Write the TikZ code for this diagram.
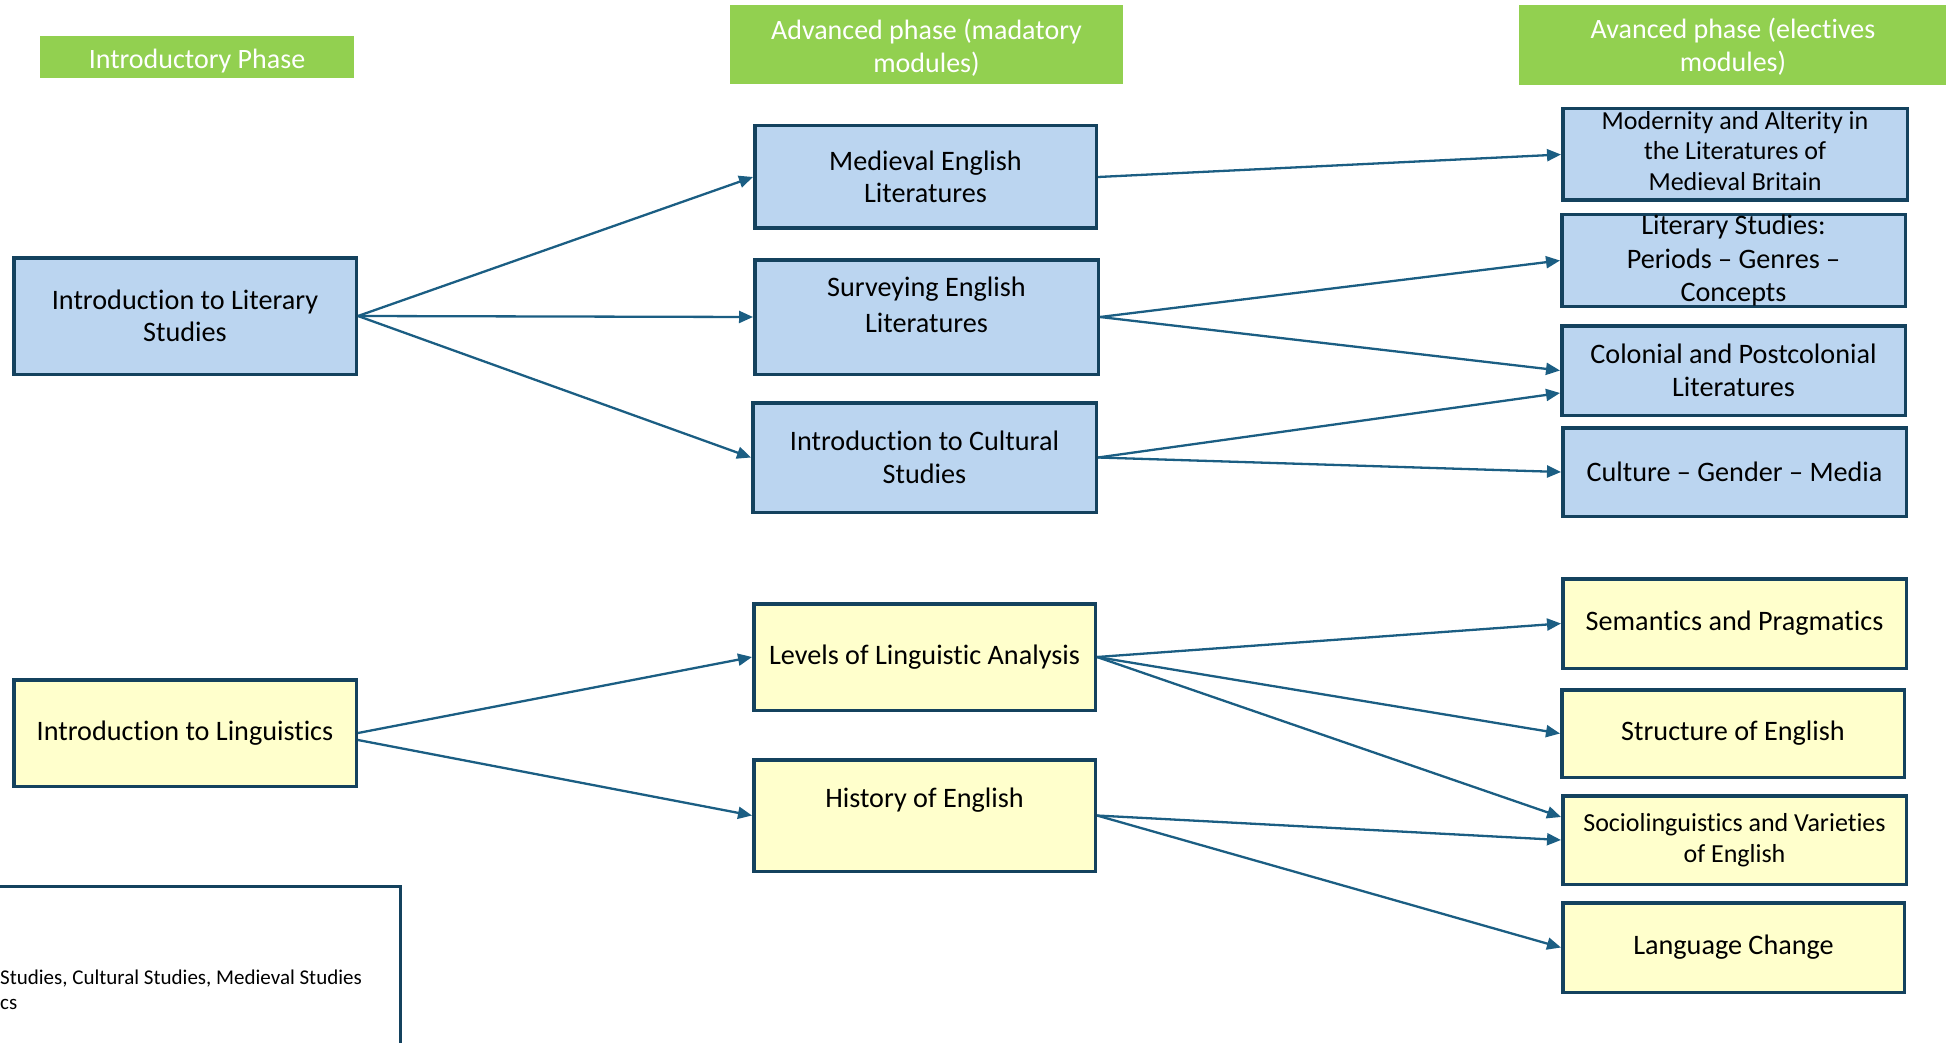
\documentclass[tikz,border=0pt]{standalone}
\usepackage{fontspec}
\setmainfont{Carlito}[Ligatures=NoCommon]
\usetikzlibrary{arrows.meta,calc}
\definecolor{hdrgreen}{RGB}{146,208,80}
\definecolor{boxblue}{RGB}{187,213,240}
\definecolor{boxyellow}{RGB}{255,255,204}
\definecolor{edgec}{RGB}{20,66,94}
\definecolor{arrowc}{RGB}{27,94,131}
\newcommand{\mainsize}{\fontsize{28.2}{32.5}\selectfont}
\newcommand{\upby}[2]{\raisebox{#1}[\height][\depth]{\begin{tabular}{@{}c@{}}#2\end{tabular}}}
\tikzset{
  modbox/.style={draw=edgec, line width=3.5pt, align=center, inner sep=0pt, font=\mainsize, text=black},
  bluebox/.style={modbox, fill=boxblue},
  yellowbox/.style={modbox, fill=boxyellow},
  hdr/.style={fill=hdrgreen, text=white, align=center, inner sep=0pt, font=\fontsize{28}{33}\selectfont},
  link/.style={draw=arrowc, line width=2.3pt, -{Triangle[length=14pt,width=12pt]}},
}
\begin{document}
\begin{tikzpicture}[x=1pt,y=-1pt]
\useasboundingbox (0,0) rectangle (1946,1043);
\clip (0,0) rectangle (1946,1043);

% headers
\node[hdr, minimum width=314pt, minimum height=42pt] (h1) at (197,57) {\raisebox{-4.5pt}[\height][\depth]{Introductory Phase}};
\node[hdr, minimum width=393pt, minimum height=79pt] (h2) at (926.5,44.5) {\upby{-4.5pt}{Advanced phase (madatory\\modules)}};
\node[hdr, minimum width=428pt, minimum height=80pt] (h3) at (1733,45) {\upby{-3.5pt}{Avanced phase (electives\\modules)}};

% literature / culture strand
\node[bluebox, minimum width=342.5pt, minimum height=116.5pt] (lit) at (185,316) {Introduction to Literary\\Studies};
\node[bluebox, minimum width=341.5pt, minimum height=102.5pt] (med) at (925.5,177) {Medieval English\\Literatures};
\node[bluebox, minimum width=343.5pt, minimum height=114.5pt, font=\fontsize{28.2}{36}\selectfont] (surv) at (926.5,317) {\upby{9.5pt}{Surveying English\\Literatures}};
\node[bluebox, minimum width=343.5pt, minimum height=109.5pt] (cult) at (924.5,457.5) {Introduction to Cultural\\Studies};
\node[bluebox, minimum width=344.5pt, minimum height=91.5pt, font=\fontsize{26}{30.5}\selectfont] (mod) at (1735,154.5) {\upby{1pt}{Modernity and Alterity in\\the Literatures of\\Medieval Britain}};
\node[bluebox, minimum width=343.5pt, minimum height=91.5pt, font=\fontsize{28.2}{33.5}\selectfont] (lits) at (1733.5,260.5) {Literary Studies:\\Periods – Genres –\\Concepts};
\node[bluebox, minimum width=343.5pt, minimum height=89.5pt] (col) at (1733.5,370.5) {Colonial and Postcolonial\\Literatures};
\node[bluebox, minimum width=343.5pt, minimum height=88.5pt] (cgm) at (1734.5,472) {Culture – Gender – Media};

% linguistics strand
\node[yellowbox, minimum width=342.5pt, minimum height=106.5pt] (ling) at (185,733) {\raisebox{-1.5pt}{Introduction to Linguistics}};
\node[yellowbox, minimum width=341.5pt, minimum height=106.5pt] (lev) at (924.5,657) {\raisebox{-1pt}{Levels of Linguistic Analysis}};
\node[yellowbox, minimum width=341.5pt, minimum height=111.5pt] (hist) at (924.5,815.5) {\upby{15pt}{History of English}};
\node[yellowbox, minimum width=343.5pt, minimum height=89.5pt] (sem) at (1734.5,623.5) {Semantics and Pragmatics};
\node[yellowbox, minimum width=342.5pt, minimum height=87.5pt] (str) at (1733,733.5) {Structure of English};
\node[yellowbox, minimum width=343.5pt, minimum height=88.5pt, font=\fontsize{26}{31}\selectfont] (soc) at (1734.5,840) {Sociolinguistics and Varieties\\of English};
\node[yellowbox, minimum width=341.5pt, minimum height=89.5pt] (lc) at (1733.5,947.5) {Language Change};

% legend box (cut by the page edge)
\node[draw=edgec, line width=3.5pt, fill=white, minimum width=421pt, minimum height=183pt, inner sep=0pt] (legend) at (190,978) {};
\node[anchor=west, align=left, inner sep=0pt, font=\fontsize{21}{25}\selectfont, text=black] (legtxt) at (0,990) {Studies, Cultural Studies, Medieval Studies\\cs};

% connectors
\coordinate (colLow) at ($(col.west)+(0,22.5)$);
\coordinate (socHigh) at ($(soc.west)+(0,-23)$);
\coordinate (lingLow) at ($(ling.east)+(0,7)$);

\draw[link] (lit.east) -- (med.west);
\draw[link] (lit.east) -- (surv.west);
\draw[link] (lit.east) -- (cult.west);
\draw[link] (med.east) -- (mod.west);
\draw[link] (surv.east) -- (lits.west);
\draw[link] (surv.east) -- (col.west);
\draw[link] (cult.east) -- (colLow);
\draw[link] (cult.east) -- (cgm.west);

\draw[link] (ling.east) -- (lev.west);
\draw[link] (lingLow) -- (hist.west);
\draw[link] (lev.east) -- (sem.west);
\draw[link] (lev.east) -- (str.west);
\draw[link] (lev.east) -- (socHigh);
\draw[link] (hist.east) -- (soc.west);
\draw[link] (hist.east) -- (lc.west);
\end{tikzpicture}
\end{document}
